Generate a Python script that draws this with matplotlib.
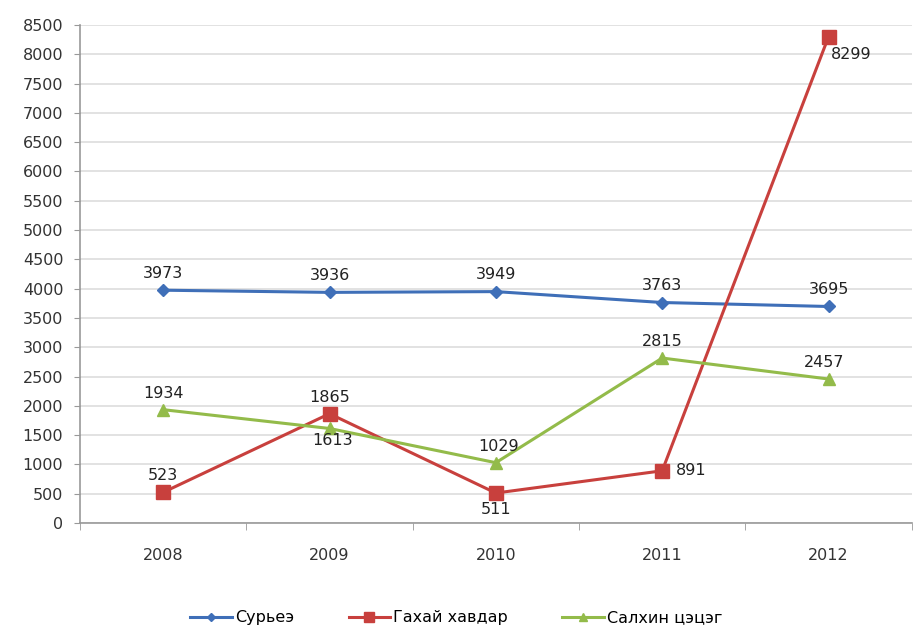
import matplotlib
matplotlib.use("Agg")
import matplotlib.pyplot as plt
import numpy as np

plt.rcParams['font.family'] = ['DejaVu Sans']

years = ["2008", "2009", "2010", "2011", "2012"]
tb = [3973, 3936, 3949, 3763, 3695]
mumps = [523, 1865, 511, 891, 8299]
chickenpox = [1934, 1613, 1029, 2815, 2457]
names = ["Сурьеэ", "Гахай хавдар", "Салхин цэцэг"]
yticks = list(range(0, 8501, 500))

fig = plt.figure(figsize=(9.13, 6.32), dpi=100)
ax = fig.add_axes([0.0876, 0.1725, 0.911, 0.788])
x = np.arange(len(years))

c_blue = "#3f6fb8"
c_red = "#c8403d"
c_green = "#93bb4a"

ax.plot(x, tb, color=c_blue, lw=2.2, marker="D", ms=6, label=names[0], zorder=3)
ax.plot(x, mumps, color=c_red, lw=2.2, marker="s", ms=10, label=names[1], zorder=3)
ax.plot(x, chickenpox, color=c_green, lw=2.2, marker="^", ms=9, label=names[2], zorder=3)

fs = 11.5
def lab(xi, yi, dx, dy, ha="center"):
    ax.annotate(str(yi), (xi, yi), xytext=(dx, dy), textcoords="offset points",
                ha=ha, va="center", fontsize=fs, color="#222222", zorder=5)

for i, v in enumerate(tb):
    lab(i, v, 0, 12)
red_off = [(0, 12), (0, 12), (0, -12), (10, 0), (2, -13)]
for i, v in enumerate(mumps):
    dx, dy = red_off[i]
    lab(i, v, dx, dy, ha="left" if dx > 0 else "center")
green_off = [(0, 12), (2, -9), (2, 12), (0, 12), (-3, 12)]
for i, v in enumerate(chickenpox):
    dx, dy = green_off[i]
    lab(i, v, dx, dy)

ax.set_xlim(-0.5, 4.5)
ax.set_ylim(0, 8500)
ax.set_yticks(yticks)
ax.set_xticks(x)
ax.set_xticklabels(years)
ax.set_xticks(np.arange(-0.5, 5, 1), minor=True)
ax.tick_params(axis="x", which="major", length=0, pad=18, labelsize=fs, colors="#333333")
ax.tick_params(axis="x", which="minor", length=5, color="#999999")
ax.tick_params(axis="y", length=4, color="#999999", labelsize=fs, labelcolor="#333333", pad=8)
ax.grid(axis="y", color="#dddddd", lw=1.2)
ax.set_axisbelow(True)
for s in ["top", "right"]:
    ax.spines[s].set_visible(False)
for s in ["left", "bottom"]:
    ax.spines[s].set_color("#999999")
    ax.spines[s].set_linewidth(1.2)

fig.legend(loc="lower center", bbox_to_anchor=(0.5, -0.012), ncol=3, frameon=False,
           fontsize=fs, handlelength=2.6, handletextpad=0.2, columnspacing=3.4,
           markerscale=0.7)

fig.savefig("out.png", dpi=100)
